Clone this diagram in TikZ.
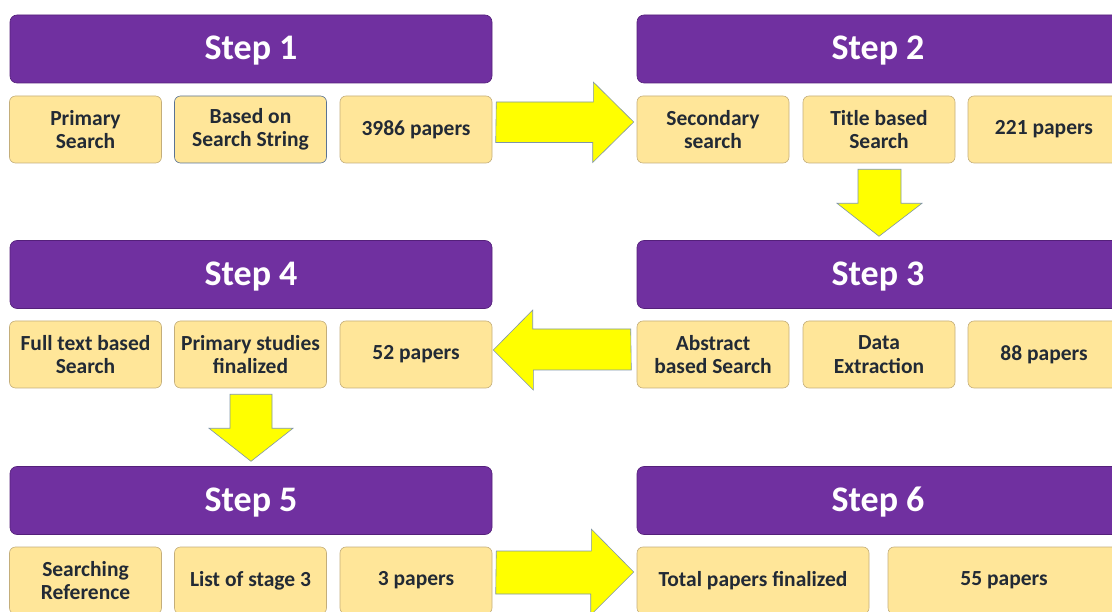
\documentclass[tikz,border=0pt]{standalone}
\usepackage{fontspec}
\setmainfont{Carlito}
\usetikzlibrary{calc}

\definecolor{steppurple}{HTML}{7030A0}
\definecolor{stepline}{HTML}{54207A}
\definecolor{cellfill}{HTML}{FFE699}
\definecolor{cellline}{HTML}{C4AE7A}
\definecolor{celltext}{HTML}{222A35}
\definecolor{blueline}{HTML}{5A7394}
\definecolor{arrowfill}{HTML}{FFFF00}
\definecolor{arrowline}{HTML}{7F95AA}

\begin{document}
\begin{tikzpicture}[
  x = 1pt, y = -1pt,
  header/.style = {
    shape = rectangle,
    rounded corners = 7pt,
    draw = stepline,
    line width = 0.6pt,
    fill = steppurple,
    text = white,
    minimum width = 482pt,
    minimum height = 68pt,
    text height = 28pt,
    text depth = 6pt,
    inner sep = 0pt,
    font = \fontsize{36}{40}\selectfont\bfseries,
  },
  cell/.style = {
    shape = rectangle,
    rounded corners = 6pt,
    draw = cellline,
    line width = 0.6pt,
    fill = cellfill,
    text = celltext,
    minimum width = 152pt,
    minimum height = 67pt,
    inner sep = 0pt,
    align = center,
    font = \fontsize{21.5}{23.5}\selectfont\bfseries,
  },
  widecell/.style = { cell, minimum width = 232pt },
  blockarrow/.style = { draw = arrowline, line width = 0.6pt, fill = arrowfill }
]
  \useasboundingbox (0, 0) rectangle (1112, 612);
  \clip (0, 0) rectangle (1112, 612);

  \node[header] (s1) at (251, 49) {Step 1};
  \node[cell] (b11) at (85.5, 129.5) {Primary\\Search};
  \node[cell, draw = blueline] (b12) at (250.5, 129.5) {Based on\\Search String};
  \node[cell] (b13) at (416, 129.5) {3986 papers};

  \node[header] (s2) at (878, 49) {Step 2};
  \node[cell] (b21) at (713, 129.5) {Secondary\\search};
  \node[cell] (b22) at (879, 129.5) {Title based\\Search};
  \node[cell] (b23) at (1044, 129.5) {221 papers};

  \node[header] (s3) at (878, 274.5) {Step 3};
  \node[cell] (b31) at (713, 354.5) {Abstract\\based Search};
  \node[cell] (b32) at (879, 354.5) {Data\\Extraction};
  \node[cell] (b33) at (1044, 354.5) {88 papers};

  \node[header] (s4) at (251, 274.5) {Step 4};
  \node[cell] (b41) at (85.5, 354.5) {Full text based\\Search};
  \node[cell] (b42) at (250.5, 354.5) {Primary studies\\finalized};
  \node[cell] (b43) at (416, 354.5) {52 papers};

  \node[header] (s5) at (251, 500.5) {Step 5};
  \node[cell] (b51) at (85.5, 580.5) {Searching\\Reference};
  \node[cell] (b52) at (250.5, 580.5) {List of stage 3};
  \node[cell] (b53) at (416, 580.5) {3 papers};

  \node[header] (s6) at (878, 500.5) {Step 6};
  \node[widecell] (b61) at (753, 580.5) {Total papers finalized};
  \node[widecell] (b62) at (1004, 580.5) {55 papers};

  % block arrows between the steps
  \draw[blockarrow] ($(b13.east) + (4, -27.5)$) -- ++(97, 0) -- ++(0, -20)
    -- ($(b21.west) + (-3, -7.5)$) -- ++(-41, 40.5) -- ++(0, -20) -- ++(-97, 0) -- cycle;

  \draw[blockarrow] ($(b22.south) + (-21, 6)$) -- ++(0, 34) -- ++(-21, 0)
    -- ($(b22.south) + (0, 73)$) -- ++(43, -33) -- ++(-21, 0) -- ++(0, -34) -- cycle;

  \draw[blockarrow] ($(b31.west) + (-6, -25.5)$) -- ++(-98, 0) -- ++(0, -19)
    -- ($(b43.east) + (1, -4.5)$) -- ++(40, 40) -- ++(0, -20) -- ++(98, 0) -- cycle;

  \draw[blockarrow] ($(b42.south) + (-20.5, 6)$) -- ++(0, 34) -- ++(-21, 0)
    -- ($(b42.south) + (0.5, 73)$) -- ++(42, -33) -- ++(-21, 0) -- ++(0, -34) -- cycle;

  \draw[blockarrow] ($(b53.east) + (4, -29.5)$) -- ++(95, 0) -- ++(0, -22)
    -- ($(b61.west) + (-3, -8.5)$) -- ++(-43, 43) -- ++(0, -21) -- ++(-95, 0) -- cycle;
\end{tikzpicture}
\end{document}
